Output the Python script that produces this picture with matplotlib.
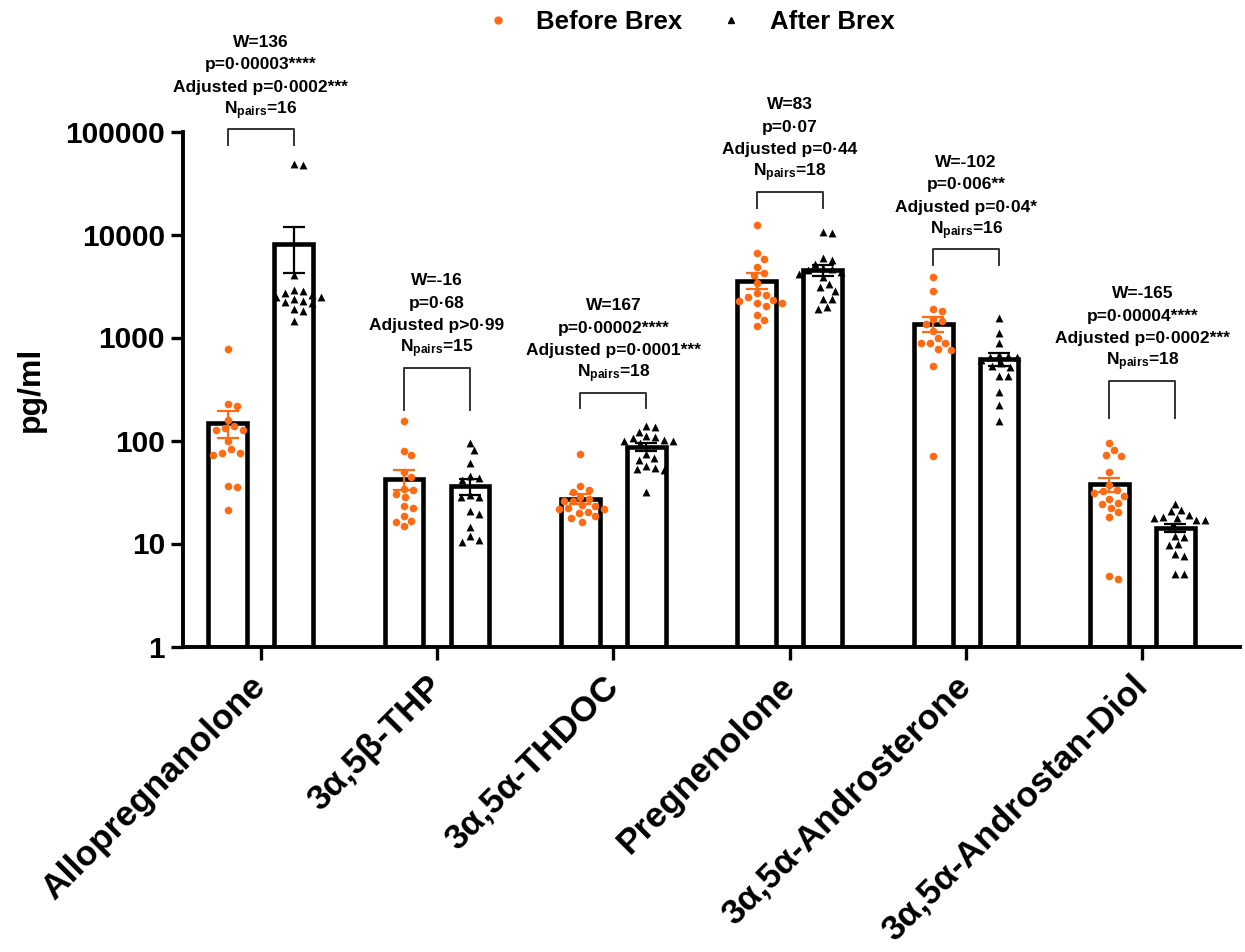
import numpy as np
import matplotlib
matplotlib.use("Agg")
import matplotlib.pyplot as plt
from matplotlib.lines import Line2D
from matplotlib.ticker import NullLocator

plt.rcParams['font.family'] = ['Liberation Sans', 'DejaVu Sans']
plt.rcParams['font.weight'] = 'bold'
plt.rcParams['mathtext.default'] = 'regular'

# ---------------- data ----------------
categories = ["Allopregnanolone", "3α,5β-THP", "3α,5α-THDOC", "Pregnenolone",
              "3α,5α-Androsterone", "3α,5α-Androstan-Diol"]

before_allo = [769, 227, 218, 158, 127, 127, 132, 137, 98, 82, 73, 76, 76, 36, 35, 21]
after_allo = [48000, 47000, 4050, 2820, 2900, 2600, 2500, 2450, 2350, 2700, 2230, 2150,
              2250, 1900, 1800, 1450]
before_thp = [154, 72, 79, 50, 44, 34, 33, 30, 28, 22, 23, 18.5, 14.8, 16.4, 16.2]
after_thp = [95, 80, 60, 41, 43, 45, 28.5, 28, 19.3, 20.8, 14.6, 11.8, 10.4, 10.8, 29.6]
before_thdoc = [74, 36, 33, 31.8, 26.8, 28.5, 26, 26, 23.6, 23.1, 22, 21.5, 21.5, 19.6,
                20.4, 18.6, 17.8, 16.3]
after_thdoc = [138, 122, 134, 107, 105, 111, 101, 99.6, 98, 95, 74, 67, 65, 56, 53.5,
               52.5, 51.7, 31.8]
before_preg = [12370, 6560, 5780, 4860, 4250, 4040, 3360, 2720, 2590, 2490, 2150, 2150,
               2280, 2310, 2020, 1650, 1480, 1290]
after_preg = [10280, 10500, 5650, 5870, 5140, 4620, 4700, 4140, 3840, 3070, 2850, 2370,
              2370, 1880, 1990, 4350, 4520, 3300]
before_andro = [3890, 2810, 1810, 1890, 1460, 1510, 1350, 1160, 982, 878, 878, 878, 773,
                756, 528, 70]
after_andro = [1535, 1100, 878, 661, 676, 643, 643, 528, 514, 423, 423, 298, 221, 156,
               600, 560]
before_diol = [94, 73, 80, 71, 50, 37, 33, 32, 29, 27, 31, 25, 24, 22, 20, 18, 4.5, 4.8]
after_diol = [24.3, 20.5, 21, 18.2, 17.5, 17.5, 16.9, 18.8, 16.8, 14.7, 11.8, 11.6, 9.6,
              9.8, 7.6, 7.9, 5.1, 5.1]

before_values = [before_allo, before_thp, before_thdoc, before_preg, before_andro, before_diol]
after_values = [after_allo, after_thp, after_thdoc, after_preg, after_andro, after_diol]

w_stats = ["W=136", "W=-16", "W=167", "W=83", "W=-102", "W=-165"]
p_stats = ["p=0·00003****", "p=0·68", "p=0·00002****", "p=0·07",
           "p=0·006**", "p=0·00004****"]
adj_stats = ["Adjusted p=0·0002***", "Adjusted p>0·99", "Adjusted p=0·0001***",
             "Adjusted p=0·44", "Adjusted p=0·04*", "Adjusted p=0·0002***"]
n_pairs = [16, 15, 18, 18, 16, 18]

yticks = [1, 10, 100, 1000, 10000, 100000]
ytick_labels = ["1", "10", "100", "1000", "10000", "100000"]

# ---------------- layout / style ----------------
ORANGE = "#FF6A13"
BAR_OFF = 0.187
BAR_W = 0.22
bracket_top_log = [5.024, 2.707, 2.464, 4.416, 3.859, 2.581]
bracket_bot_log = [4.869, 2.296, 2.316, 4.257, 3.704, 2.218]

W, H = 1245, 952
fig = plt.figure(figsize=(W / 100, H / 100), dpi=100)
ax = fig.add_axes([183 / W, 1 - 646.5 / H, (1240 - 183) / W, 515 / H])
ax.set_yscale('log')
ax.set_ylim(1, 1e5)
ax.set_xlim(-0.44, 5.553)


def swarm_offsets(vals, xc, dmin=8.5, step=1.5):
    """Greedy beeswarm in pixel space; returns x positions in data units."""
    vals = np.asarray(vals, float)
    pts = ax.transData.transform(np.column_stack([np.full(len(vals), xc), vals]))
    ypx = pts[:, 1]
    x0px = pts[0, 0]
    order = np.argsort(-vals)
    placed = []
    xs = np.zeros(len(vals))
    for idx in order:
        k = 0
        while True:
            cands = [0.0] if k == 0 else [k * step, -k * step]
            ok = None
            for c in cands:
                if all((c - px) ** 2 + (ypx[idx] - py) ** 2 >= dmin ** 2 for px, py in placed):
                    ok = c
                    break
            if ok is not None:
                placed.append((ok, ypx[idx]))
                xs[idx] = ok
                break
            k += 1
    inv = ax.transData.inverted()
    return np.array([inv.transform((x0px + x, ypx[0]))[0] for x in xs])


for i in range(len(categories)):
    for vals, color, marker, off, s in [(before_values[i], ORANGE, 'o', -BAR_OFF, 30),
                                        (after_values[i], 'black', '^', BAR_OFF, 32)]:
        v = np.asarray(vals, float)
        mean = v.mean()
        sem = v.std(ddof=1) / np.sqrt(len(v))
        xc = i + off
        ax.bar(xc, mean - 1, bottom=1, width=BAR_W, facecolor='white',
               edgecolor='black', linewidth=3.3, zorder=1)
        xs = swarm_offsets(v, xc)
        ax.scatter(xs, v, s=s, marker=marker, color=color, linewidths=0, zorder=3)
        ax.errorbar(xc, mean, yerr=sem, fmt='none', ecolor=color, elinewidth=1.6,
                    capsize=8, capthick=1.6, zorder=4)

    # bracket and statistics
    x0, x1 = i - BAR_OFF, i + BAR_OFF
    top = 10 ** bracket_top_log[i]
    bot = 10 ** bracket_bot_log[i]
    ax.plot([x0, x0, x1, x1], [bot, top, top, bot], color='#333333', lw=1.4,
            clip_on=False, zorder=5)
    lines = [w_stats[i], p_stats[i], adj_stats[i], "N$_{pairs}$=%d" % n_pairs[i]]
    for k, txt in enumerate(reversed(lines)):
        off_px = 15 + 22.5 * k
        ax.annotate(txt, xy=(i, top), xytext=(0, off_px * 0.72), textcoords='offset points',
                    ha='center', va='baseline', fontsize=12.5, fontweight='bold',
                    annotation_clip=False)

# axes styling
for sp in ['top', 'right']:
    ax.spines[sp].set_visible(False)
for sp in ['left', 'bottom']:
    ax.spines[sp].set_linewidth(2.8)
ax.set_yticks(yticks)
ax.set_yticklabels(ytick_labels, fontsize=21.5, fontweight='bold')
ax.yaxis.set_minor_locator(NullLocator())
ax.tick_params(axis='y', length=9, width=2.4, pad=4)
ax.set_xticks(range(len(categories)))
ax.set_xticklabels(categories, rotation=45, ha='right', rotation_mode='anchor',
                   fontsize=25.5, fontweight='bold', va='center')
ax.tick_params(axis='x', length=9, width=2.4, pad=16)
ax.set_ylabel("pg/ml", fontsize=23, fontweight='bold', labelpad=14)

handles = [Line2D([], [], marker='o', color=ORANGE, ls='none', markersize=5),
           Line2D([], [], marker='^', color='black', ls='none', markersize=5)]
fig.legend(handles, ["Before Brex", "After Brex"], loc='center',
           bbox_to_anchor=(0.554, 0.977), ncol=2, frameon=False,
           prop={'weight': 'bold', 'size': 18.5}, handlelength=1, handletextpad=1,
           columnspacing=1.4)

fig.savefig("out.png", dpi=100)
